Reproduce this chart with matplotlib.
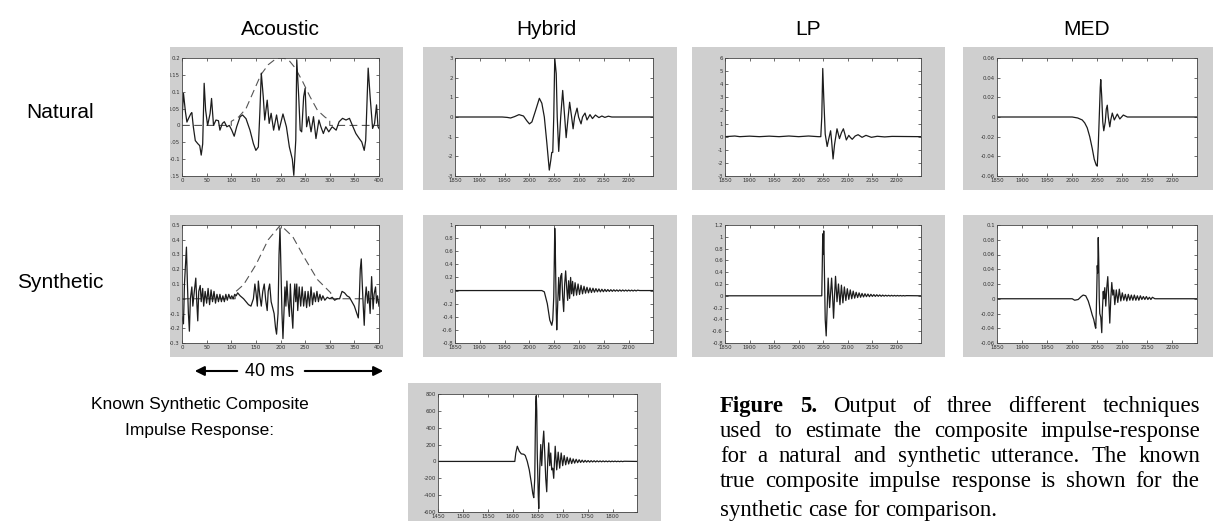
import matplotlib

matplotlib.use("Agg")

import matplotlib.pyplot as plt
from matplotlib.patches import FancyArrowPatch, Rectangle

W, H = 1213, 521
PANEL_GRAY = "#cfcfcf"
INK = "#1c1c1c"

# ---- data (x, y) ----
acoustic_nat = [
    (0, 0.02), (3, 0.095), (7, 0.04), (10, 0.01), (13, 0.02), (18, 0.035), (20, 0.038), (23, -0.004),
    (27, -0.045), (32, -0.054), (36, -0.06), (39, -0.088), (42, -0.055), (45, 0.125), (48, 0.045),
    (52, 0.0), (57, 0.035), (60, 0.08), (64, 0.0), (69, 0.016), (74, 0.014), (77, -0.014), (82, 0.006),
    (86, 0.011), (91, -0.004), (96, 0.0), (101, -0.014), (106, -0.032), (111, -0.004), (118, 0.026),
    (123, 0.031), (130, 0.02), (138, -0.014), (145, -0.054), (150, -0.074), (155, -0.064), (158, 0.036),
    (161, 0.155), (165, 0.085), (168, 0.016), (173, 0.075), (177, 0.006), (181, 0.036), (186, -0.014),
    (192, 0.031), (197, -0.014), (205, 0.034), (212, -0.004), (218, -0.064), (224, -0.1), (227, -0.148),
    (231, -0.044), (233, 0.195), (237, 0.085), (240, -0.014), (243, -0.019), (247, 0.085), (250, 0.11),
    (253, -0.004), (257, 0.026), (262, -0.019), (267, 0.026), (272, -0.039), (278, 0.016), (282, -0.004),
    (287, -0.024), (292, -0.004), (298, -0.019), (305, -0.004), (313, -0.014), (319, 0.011), (326, 0.021),
    (333, 0.016), (340, 0.021), (346, 0.0), (353, -0.024), (360, -0.039), (365, -0.049), (370, -0.074),
    (373, -0.044), (378, 0.17), (382, 0.085), (387, -0.009), (391, 0.006), (395, 0.061), (398, -0.004),
    (400, -0.009),
]
acoustic_nat_window = [
    (0, 0), (100, 0), (100, 0.012), (115, 0.025), (130, 0.05), (145, 0.1), (160, 0.15), (175, 0.18),
    (190, 0.197), (200, 0.2), (215, 0.197), (230, 0.17), (245, 0.13), (260, 0.085), (275, 0.045),
    (290, 0.025), (300, 0.015), (300, 0), (400, 0),
]
acoustic_syn = [
    (0, -0.12), (3, -0.17), (5, 0.1), (7, 0.22), (9, 0.35), (11, 0.1), (13, -0.1), (15, -0.22), (17, 0.0),
    (20, 0.08), (22, -0.05), (25, 0.05), (28, 0.14), (30, -0.02), (32, -0.15), (34, 0.05), (37, 0.09),
    (39, -0.02), (42, 0.07), (44, -0.05), (47, 0.05), (50, -0.03), (53, 0.07), (56, -0.04), (59, 0.06),
    (62, -0.02), (65, 0.05), (68, -0.03), (71, 0.03), (74, -0.02), (77, 0.03), (80, -0.02), (83, 0.02),
    (86, -0.02), (89, 0.03), (92, -0.01), (95, 0.03), (98, 0.0), (101, 0.02), (104, 0.0), (107, 0.03),
    (110, 0.02), (113, 0.04), (118, 0.02), (125, 0.0), (130, -0.02), (135, -0.04), (140, -0.05), (145, 0.0),
    (148, 0.1), (150, 0.05), (153, -0.05), (155, 0.12), (158, 0.02), (161, -0.05), (164, 0.05), (167, 0.1),
    (170, -0.01), (173, -0.08), (175, 0.05), (178, 0.1), (181, -0.02), (184, -0.06), (187, -0.1),
    (190, -0.2), (192, -0.24), (195, -0.1), (197, 0.3), (199, 0.48), (201, 0.2), (203, -0.1), (205, -0.27),
    (207, -0.1), (209, 0.08), (211, -0.05), (213, 0.12), (215, 0.0), (218, -0.12), (220, 0.1), (222, -0.05),
    (225, -0.2), (227, 0.0), (229, 0.1), (231, -0.02), (233, 0.1), (235, -0.08), (238, 0.08), (241, -0.05),
    (244, 0.08), (247, -0.05), (250, 0.05), (253, -0.06), (256, 0.05), (259, -0.05), (262, 0.08),
    (265, -0.04), (268, 0.04), (271, -0.02), (274, 0.05), (277, -0.02), (280, 0.03), (283, -0.01),
    (286, 0.02), (290, -0.01), (295, 0.01), (300, 0.0), (305, 0.01), (310, -0.01), (315, 0.0), (320, 0.0),
    (325, 0.05), (330, 0.04), (335, 0.02), (340, 0.01), (345, -0.02), (350, -0.05), (355, -0.1),
    (358, -0.13), (360, 0.0), (362, 0.2), (364, 0.27), (366, 0.1), (368, -0.05), (370, -0.18), (372, 0.0),
    (374, 0.08), (377, -0.03), (379, 0.05), (382, -0.1), (385, 0.15), (388, -0.07), (390, 0.03),
    (393, 0.08), (395, -0.03), (397, 0.02), (400, -0.05),
]
acoustic_syn_window = [
    (0, 0), (108, 0), (108, 0.045), (125, 0.095), (150, 0.23), (175, 0.4), (200, 0.5), (225, 0.42),
    (250, 0.27), (275, 0.13), (302, 0.04), (302, 0), (400, 0),
]
hybrid_nat = [
    (1850, 0), (1945, 0), (1955, -0.02), (1962, -0.05), (1970, 0.02), (1979, 0.12), (1988, 0.05),
    (1995, -0.2), (2000, -0.35), (2005, -0.25), (2012, 0.3), (2020, 0.95), (2025, 0.7), (2030, 0.0),
    (2035, -1.3), (2040, -2.7), (2043, -2.2), (2045, -1.8), (2047, -1.8), (2049, 0.0), (2051, 3.0),
    (2054, 2.2), (2056, 0.0), (2059, -1.75), (2063, 0.0), (2067, 1.35), (2071, 0.0), (2074, -1.05),
    (2078, 0.0), (2081, 0.75), (2085, 0.0), (2088, -0.6), (2091, 0.0), (2096, 0.45), (2099, 0.0),
    (2104, -0.35), (2107, 0.0), (2112, 0.2), (2116, -0.15), (2122, 0.12), (2127, -0.08), (2133, 0.1),
    (2140, -0.03), (2146, 0.05), (2152, -0.02), (2159, 0.04), (2166, 0.0), (2249, 0),
]
lp_nat = [
    (1850, 0), (1870, 0.05), (1880, 0), (1900, 0.04), (1920, 0), (1940, 0.04), (1960, 0), (1980, 0.05),
    (2000, 0), (2020, 0.05), (2040, 0.0), (2045, 0.0), (2047, 1.5), (2049, 5.2), (2051, 3.0), (2054, 0.2),
    (2058, -0.75), (2061, -0.2), (2065, 0.45), (2067, -0.3), (2070, -1.7), (2073, -0.6), (2078, 0.6),
    (2083, -0.15), (2087, 0.3), (2091, 0.6), (2094, 0.2), (2097, -0.25), (2102, 0.1), (2105, -0.05),
    (2109, -0.2), (2115, 0.05), (2121, 0.15), (2129, -0.05), (2137, 0.1), (2148, -0.05), (2160, 0.03),
    (2175, -0.02), (2190, 0.02), (2249, 0),
]
med_nat = [
    (1850, 0), (2000, 0), (2011, -0.001), (2020, -0.003), (2025, -0.006), (2030, -0.011), (2035, -0.02),
    (2040, -0.032), (2044, -0.043), (2048, -0.049), (2050, -0.05), (2052, -0.03), (2054, 0.0),
    (2056, 0.03), (2057, 0.038), (2059, 0.02), (2061, -0.005), (2063, -0.014), (2066, -0.005),
    (2068, 0.008), (2070, 0.012), (2072, 0.0), (2075, -0.01), (2077, -0.003), (2080, 0.004),
    (2084, -0.003), (2087, 0.0), (2090, 0.003), (2095, -0.002), (2102, 0.002), (2110, 0.0), (2249, 0),
]
hybrid_syn = [
    (1850, 0), (2025, 0), (2030, -0.02), (2036, -0.2), (2041, -0.45), (2045, -0.53), (2047, -0.45),
    (2049, -0.1), (2050, 0.4), (2051, 0.95), (2052, 0.7), (2053, 0.2), (2054, -0.3), (2055, -0.6),
    (2057, -0.2), (2059, 0.2), (2061, -0.15), (2063, 0.22), (2065, 0.26), (2067, -0.1), (2069, -0.32),
    (2071, 0.1), (2073, 0.3), (2075, 0.05), (2077, -0.15), (2079, 0.15), (2081, -0.12), (2083, 0.2),
    (2085, -0.05), (2087, 0.14), (2089, -0.08), (2092, 0.12), (2095, -0.07), (2098, 0.1), (2101, -0.06),
    (2104, 0.08), (2107, -0.05), (2110, 0.065), (2113, -0.04), (2116, 0.05), (2119, -0.035), (2122, 0.04),
    (2125, -0.03), (2128, 0.035), (2131, -0.025), (2134, 0.03), (2137, -0.02), (2140, 0.025), (2143, -0.02),
    (2146, 0.02), (2149, -0.018), (2152, 0.018), (2155, -0.015), (2158, 0.015), (2161, -0.013),
    (2164, 0.013), (2167, -0.012), (2170, 0.012), (2173, -0.01), (2176, 0.01), (2179, -0.01), (2182, 0.01),
    (2185, -0.009), (2188, 0.009), (2191, -0.008), (2194, 0.008), (2197, -0.008), (2200, 0.008),
    (2203, -0.007), (2206, 0.007), (2209, -0.007), (2212, 0.007), (2215, -0.006), (2218, 0.006),
    (2222, 0), (2249, 0),
]
lp_syn = [
    (1850, 0), (2047, 0), (2048, 0.5), (2049, 1.05), (2050, 0.7), (2051, 1.1), (2052, 0.6), (2054, -0.4),
    (2056, -0.68), (2058, -0.2), (2060, 0.3), (2063, -0.2), (2067, 0.3), (2069, 0.0), (2071, -0.38),
    (2073, 0.0), (2075, 0.33), (2078, -0.1), (2081, 0.2), (2084, -0.15), (2087, 0.18), (2090, -0.12),
    (2093, 0.15), (2096, -0.08), (2099, 0.12), (2102, -0.06), (2105, 0.1), (2108, -0.05), (2111, 0.08),
    (2114, -0.04), (2117, 0.06), (2120, -0.03), (2123, 0.05), (2126, -0.025), (2129, 0.04), (2132, -0.02),
    (2135, 0.035), (2138, -0.015), (2141, 0.03), (2144, -0.015), (2147, 0.025), (2150, -0.01),
    (2153, 0.02), (2156, -0.01), (2159, 0.018), (2162, -0.008), (2165, 0.015), (2168, -0.008),
    (2171, 0.012), (2174, -0.006), (2177, 0.01), (2180, -0.005), (2183, 0.009), (2186, -0.005),
    (2189, 0.008), (2192, -0.004), (2195, 0.007), (2198, -0.004), (2201, 0.006), (2204, -0.003),
    (2207, 0.005), (2210, -0.003), (2213, 0.004), (2216, -0.002), (2219, 0.003), (2249, 0),
]
med_syn = [
    (1850, 0), (2000, 0), (2005, -0.002), (2012, -0.001), (2018, 0.003), (2022, 0.005), (2027, 0.004),
    (2032, -0.003), (2036, -0.012), (2040, -0.022), (2043, -0.028), (2046, -0.038), (2047, -0.04),
    (2048, -0.02), (2049, 0.01), (2050, 0.045), (2051, 0.035), (2052, 0.083), (2053, 0.05), (2054, 0.0),
    (2055, -0.02), (2057, -0.025), (2059, -0.046), (2060, -0.02), (2062, 0.01), (2063, 0.0), (2065, 0.015),
    (2067, -0.01), (2069, 0.015), (2071, 0.03), (2073, 0.0), (2075, -0.033), (2077, 0.0), (2079, 0.022),
    (2081, 0.005), (2083, 0.012), (2085, -0.008), (2088, 0.012), (2091, -0.005), (2094, 0.013),
    (2097, -0.003), (2100, 0.008), (2103, -0.002), (2106, 0.006), (2109, -0.003), (2112, 0.006),
    (2115, -0.002), (2118, 0.005), (2121, -0.002), (2124, 0.005), (2127, -0.002), (2130, 0.004),
    (2133, -0.002), (2136, 0.004), (2139, -0.001), (2142, 0.003), (2145, -0.001), (2148, 0.003),
    (2151, -0.001), (2154, 0.002), (2157, -0.001), (2160, 0.002), (2165, 0.0), (2249, 0),
]
known_syn = [
    (1450, 0), (1604, 0), (1606, 100), (1609, 180), (1613, 120), (1617, 90), (1622, 85), (1625, 70),
    (1629, 0), (1633, -100), (1637, -250), (1640, -380), (1642, -430), (1644, -200), (1645, 300),
    (1646, 700), (1647, 780), (1648, 600), (1649, 100), (1651, -400), (1652, -560), (1654, -100),
    (1656, 200), (1658, -50), (1660, 200), (1662, 360), (1664, 100), (1666, -200), (1668, -360), (1670, 0),
    (1672, 220), (1674, -50), (1676, 100), (1678, -100), (1680, -80), (1682, -200), (1685, 180),
    (1688, -100), (1691, 110), (1694, -80), (1697, 100), (1700, -50), (1703, 70), (1706, -40), (1709, 50),
    (1712, -30), (1715, 40), (1718, -25), (1721, 30), (1724, -20), (1727, 25), (1730, -15), (1733, 20),
    (1736, -12), (1739, 15), (1742, -10), (1745, 12), (1748, -8), (1751, 10), (1754, -8), (1757, 9),
    (1760, -6), (1763, 8), (1766, -6), (1769, 7), (1772, -5), (1775, 6), (1778, -5), (1781, 6), (1784, -4),
    (1787, 5), (1790, -4), (1793, 5), (1796, -4), (1799, 4), (1802, -3), (1805, 4), (1808, -3), (1811, 3),
    (1814, -3), (1817, 3), (1820, -2), (1823, 2), (1849, 0),
]

acoustic_xticks = [0, 50, 100, 150, 200, 250, 300, 350, 400]
sample_xticks = [1850, 1900, 1950, 2000, 2050, 2100, 2150, 2200]
known_xticks = [1450, 1500, 1550, 1600, 1650, 1700, 1750, 1800]

acoustic_nat_yticks = [-0.15, -0.1, -0.05, 0, 0.05, 0.1, 0.15, 0.2]
hybrid_nat_yticks = [-3, -2, -1, 0, 1, 2, 3]
lp_nat_yticks = [-3, -2, -1, 0, 1, 2, 3, 4, 5, 6]
med_nat_yticks = [-0.06, -0.04, -0.02, 0, 0.02, 0.04, 0.06]
acoustic_syn_yticks = [-0.3, -0.2, -0.1, 0, 0.1, 0.2, 0.3, 0.4, 0.5]
hybrid_syn_yticks = [-0.8, -0.6, -0.4, -0.2, 0, 0.2, 0.4, 0.6, 0.8, 1]
lp_syn_yticks = [-0.8, -0.6, -0.4, -0.2, 0, 0.2, 0.4, 0.6, 0.8, 1, 1.2]
med_syn_yticks = [-0.06, -0.04, -0.02, 0, 0.02, 0.04, 0.06, 0.08, 0.1]
known_yticks = [-600, -400, -200, 0, 200, 400, 600, 800]

column_titles = ["Acoustic", "Hybrid", "LP", "MED"]
row_titles = ["Natural", "Synthetic"]
caption_lines = [
    "Figure 5. Output of three different techniques",
    "used to estimate the composite impulse-response",
    "for a natural and synthetic utterance. The known",
    "true composite impulse response is shown for the",
    "synthetic case for comparison.",
]

fig = plt.figure(figsize=(W / 100, H / 100), dpi=100)
fig.patch.set_facecolor("white")


def frac_rect(x0, y0, x1, y1):
    return [x0 / W, 1 - y1 / H, (x1 - x0) / W, (y1 - y0) / H]


def box_patch(x0, y0, x1, y1, color, z):
    fig.add_artist(Rectangle((x0 / W, 1 - y1 / H), (x1 - x0) / W, (y1 - y0) / H,
                             transform=fig.transFigure, facecolor=color,
                             edgecolor="none", zorder=z))


def panel(gray, box, signal, xlim, xticks, yticks, window=None):
    box_patch(*gray, PANEL_GRAY, -5)
    ax = fig.add_axes(frac_rect(*box))
    ax.set_facecolor("white")
    if window is not None:
        wx, wy = zip(*window)
        ax.plot(wx, wy, color="#555555", lw=0.8, dashes=(7, 4))
    sx, sy = zip(*signal)
    ax.plot(sx, sy, color=INK, lw=0.9)
    ax.set_xlim(*xlim)
    ax.set_ylim(yticks[0], yticks[-1])
    ax.set_xticks(xticks)
    ax.set_yticks(yticks)
    ax.set_xticklabels([f"{v:g}" for v in xticks])
    ax.set_yticklabels([f"{v:g}" for v in yticks])
    ax.tick_params(direction="in", length=2.5, width=0.5, labelsize=3.9, top=True, right=True,
                   pad=1.5, colors="#333333")
    for s in ax.spines.values():
        s.set_linewidth(0.6)
        s.set_color("#444444")
    return ax


# (gray x0, gray x1), (axes x0, axes x1) in pixels
cols = [
    ((170, 403), (182, 379)),
    ((423, 677), (455, 653)),
    ((692, 945), (725, 921)),
    ((963, 1213), (997, 1197)),
]
rows = [((47, 190), (58, 176)), ((215, 357), (225, 343))]

row_data = [
    [(acoustic_nat, (0, 400), acoustic_xticks, acoustic_nat_yticks, acoustic_nat_window),
     (hybrid_nat, (1850, 2249), sample_xticks, hybrid_nat_yticks, None),
     (lp_nat, (1850, 2249), sample_xticks, lp_nat_yticks, None),
     (med_nat, (1850, 2249), sample_xticks, med_nat_yticks, None)],
    [(acoustic_syn, (0, 400), acoustic_xticks, acoustic_syn_yticks, acoustic_syn_window),
     (hybrid_syn, (1850, 2249), sample_xticks, hybrid_syn_yticks, None),
     (lp_syn, (1850, 2249), sample_xticks, lp_syn_yticks, None),
     (med_syn, (1850, 2249), sample_xticks, med_syn_yticks, None)],
]

for (gy, ay), items in zip(rows, row_data):
    for ((gx, ax_x), (sig, xl, xt, yt, win)) in zip(cols, items):
        panel((gx[0], gy[0], gx[1], gy[1]), (ax_x[0], ay[0], ax_x[1], ay[1]), sig, xl, xt, yt, win)

panel((408, 383, 661, 530), (438, 394, 637, 512), known_syn, (1450, 1849), known_xticks, known_yticks)

# the screenshot was cropped just left of the acoustic panels
box_patch(0, 40, 170, 365, "white", 1)

# labels
sans = dict(family="Liberation Sans", color="black", ha="center")
for name, xc in zip(column_titles, [280, 546, 808, 1087]):
    fig.text(xc / W, 1 - 35 / H, name, va="baseline", fontsize=15, **sans)
for name, yc in zip(row_titles, [112, 282]):
    fig.text(60 / W, 1 - yc / H, name, va="center", fontsize=15, **sans)
fig.text(200 / W, 1 - 405 / H, "Known Synthetic Composite", va="center", fontsize=12.5, **sans)
fig.text(200 / W, 1 - 430 / H, "Impulse Response:", va="center", fontsize=12.5, **sans)
fig.text(270 / W, 1 - 371 / H, "40 ms", va="center", fontsize=13, **sans)
for a, b in [((240, 371), (192, 371)), ((302, 371), (386, 371))]:
    fig.add_artist(FancyArrowPatch((a[0] / W, 1 - a[1] / H), (b[0] / W, 1 - b[1] / H),
                                   transform=fig.transFigure, arrowstyle="-|>",
                                   mutation_scale=14, lw=1.5, color="black"))

# justified caption
renderer = fig.canvas.get_renderer()
cap_x0, cap_x1 = 720, 1200
cap_size = 16.4
baselines = [412, 437, 462, 487, 516]
for i, (line, yb) in enumerate(zip(caption_lines, baselines)):
    words = line.split()
    texts = []
    for j, w in enumerate(words):
        bold = i == 0 and j < 2
        t = fig.text(0, 1 - yb / H, w, family="Liberation Serif", fontsize=cap_size,
                     weight="bold" if bold else "normal", va="baseline", ha="left")
        texts.append(t)
    widths = [t.get_window_extent(renderer=renderer).width for t in texts]
    if i < len(caption_lines) - 1:
        gap = (cap_x1 - cap_x0 - sum(widths)) / (len(words) - 1)
    else:
        gap = cap_size * 100 / 72 * 0.25
    x = cap_x0
    for t, wd in zip(texts, widths):
        t.set_x(x / W)
        x += wd + gap

fig.savefig("out.png", dpi=100)
